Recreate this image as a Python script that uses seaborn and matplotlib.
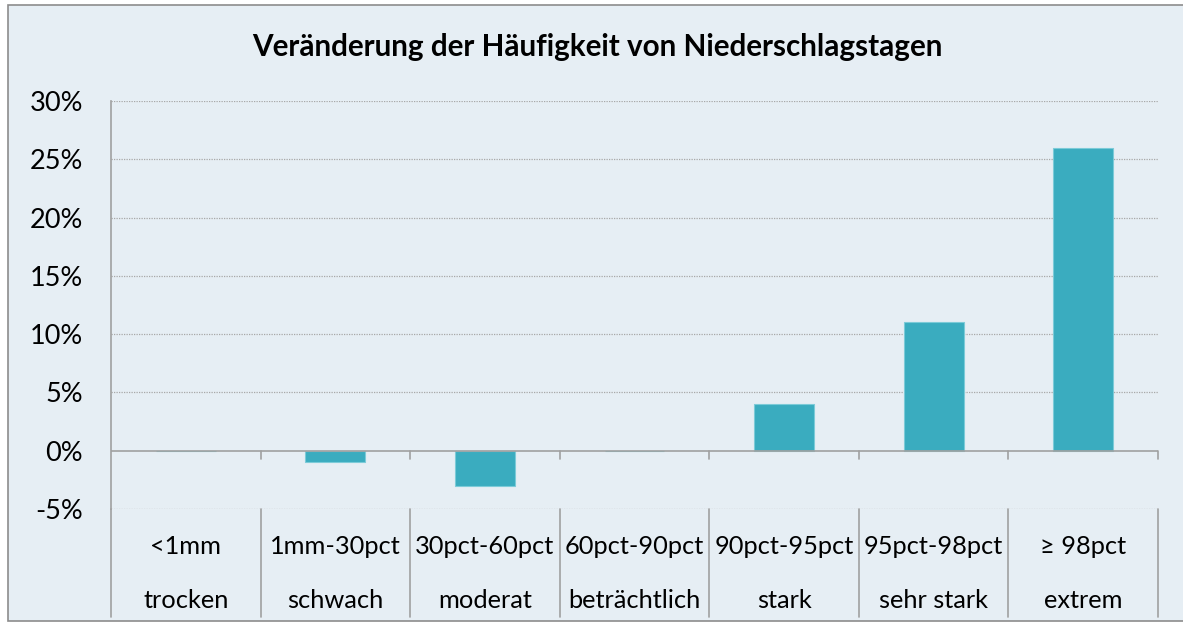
import matplotlib
matplotlib.use('Agg')
import matplotlib.pyplot as plt
import matplotlib.transforms as mtransforms
from matplotlib.patches import Rectangle
import seaborn as sns
import pandas as pd

sns.set_style("white")
plt.rcParams['font.family'] = ['Lato', 'DejaVu Sans']
plt.rcParams['text.color'] = 'black'
plt.rcParams['ytick.labelcolor'] = 'black'

# data
bins = ['<1mm', '1mm-30pct', '30pct-60pct', '60pct-90pct', '90pct-95pct', '95pct-98pct', '≥ 98pct']
names = ['trocken', 'schwach', 'moderat', 'beträchtlich', 'stark', 'sehr stark', 'extrem']
change_pct = [0, -1, -3, 0, 4, 11, 26]
yticks = [-5, 0, 5, 10, 15, 20, 25, 30]

bg = '#e6eef4'
bar_col = '#3aacbf'
line_col = '#a0a0a0'

df = pd.DataFrame({'bin': bins, 'change': change_pct})

fig = plt.figure(figsize=(11.83, 6.24), dpi=100)
fig.patch.set_facecolor('white')
fig.patches.append(Rectangle((8/1183, 3/624), 1.0, 616/624, transform=fig.transFigure,
                             facecolor=bg, edgecolor='#8c8c8c', linewidth=1.2, zorder=-10))

ax = fig.add_axes([111/1183, (624-509)/624, (1158-111)/1183, (509-101)/624])
ax.patch.set_alpha(0)

sns.barplot(data=df, x='bin', y='change', color=bar_col, width=0.4, saturation=1,
            edgecolor='#7ccbd8', linewidth=0.8, ax=ax, zorder=3)

ax.set_ylim(-5, 30)
ax.set_xlim(-0.5, len(bins) - 0.5)
ax.set_yticks(yticks)
ax.set_yticklabels([f'{v}%' for v in yticks], fontsize=19.5)
ax.set_xticks([])
ax.set_xlabel('')
ax.set_ylabel('')
ax.tick_params(axis='y', length=10, color=line_col, width=1.2, pad=10)

for s in ['top', 'right', 'bottom']:
    ax.spines[s].set_visible(False)
ax.spines['left'].set_color(line_col)
ax.spines['left'].set_linewidth(1.2)

for v in yticks:
    if v != 0:
        ax.axhline(v, color='#a8a8a8', linestyle=(0, (1, 1)), linewidth=0.9, zorder=1)
ax.axhline(0, color=line_col, linewidth=1.2, zorder=4)

# category boundaries: small ticks at zero and table lines below
trans = mtransforms.blended_transform_factory(ax.transData, ax.transAxes)
for i in range(len(bins) + 1):
    xb = i - 0.5
    if i > 0:
        ax.plot([xb, xb], [0, -0.7], color=line_col, linewidth=1.2, clip_on=False, zorder=4)
    ax.plot([xb, xb], [0, -108/408], color=line_col, linewidth=1.2,
            transform=trans, clip_on=False)

for i, (b, n) in enumerate(zip(bins, names)):
    ax.text(i, -38/408, b, transform=trans, ha='center', va='center', fontsize=18.3)
    ax.text(i, -91/408, n, transform=trans, ha='center', va='center', fontsize=18.3)

fig.text(597/1183, 1 - 47/624, 'Veränderung der Häufigkeit von Niederschlagstagen',
         ha='center', va='center', fontsize=21.3, fontweight='bold')

fig.savefig('out.png', dpi=100)
